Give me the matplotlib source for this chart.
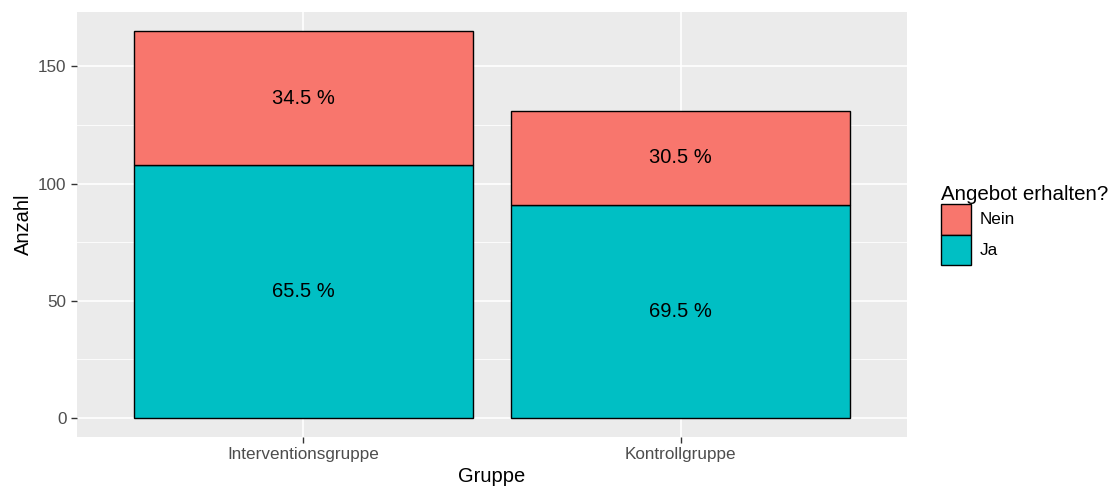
import matplotlib.pyplot as plt
import numpy as np

plt.rcParams['font.family'] = ['Liberation Sans', 'DejaVu Sans']

gruppen = ['Interventionsgruppe', 'Kontrollgruppe']
ja = [108, 91]
nein = [57, 40]
ja_pct = ['65.5 %', '69.5 %']
nein_pct = ['34.5 %', '30.5 %']

rot = '#F8766D'
tuerkis = '#00BFC4'

fig = plt.figure(figsize=(11.17, 4.9), dpi=100)
ax = fig.add_axes([0.0689, 0.1082, 0.7431, 0.8673])
ax.set_facecolor('#EBEBEB')

x = np.arange(1, len(gruppen) + 1)
ja = np.array(ja)
nein = np.array(nein)

# gitter wie bei ggplot
for v in [25, 75, 125]:
    ax.axhline(v, color='white', lw=0.6, zorder=0)
for v in [0, 50, 100, 150]:
    ax.axhline(v, color='white', lw=1.2, zorder=0)
for v in x:
    ax.axvline(v, color='white', lw=1.2, zorder=0)

ax.bar(x, ja, width=0.9, color=tuerkis, edgecolor='black', lw=1, zorder=2, label='Ja')
ax.bar(x, nein, width=0.9, bottom=ja, color=rot, edgecolor='black', lw=1, zorder=2, label='Nein')

for i in range(len(x)):
    ax.text(x[i], ja[i] / 2, ja_pct[i], ha='center', va='center', fontsize=14.5, zorder=3)
    ax.text(x[i], ja[i] + nein[i] / 2, nein_pct[i], ha='center', va='center', fontsize=14.5, zorder=3)

ax.set_xlim(0.4, 2.6)
ax.set_ylim(-8.25, 173.25)
ax.set_xticks(x)
ax.set_xticklabels(gruppen)
ax.set_yticks([0, 50, 100, 150])
for s in ax.spines.values():
    s.set_visible(False)
ax.tick_params(colors='#333333', labelcolor='#4D4D4D', labelsize=12.3, length=4, width=1)
ax.set_xlabel('Gruppe', fontsize=14.5, labelpad=3)
ax.set_ylabel('Anzahl', fontsize=14.5, labelpad=4)

h, l = ax.get_legend_handles_labels()
leg = fig.legend(h[::-1], l[::-1], title='Angebot erhalten?', loc='upper left',
                 bbox_to_anchor=(0.836, 0.637), frameon=False, fontsize=12.3,
                 title_fontsize=14.8, handlelength=1.8, handleheight=2.4,
                 handletextpad=0.5, labelspacing=0.0, borderaxespad=0)
leg._legend_box.align = 'left'

fig.savefig('out.png', dpi=100)
